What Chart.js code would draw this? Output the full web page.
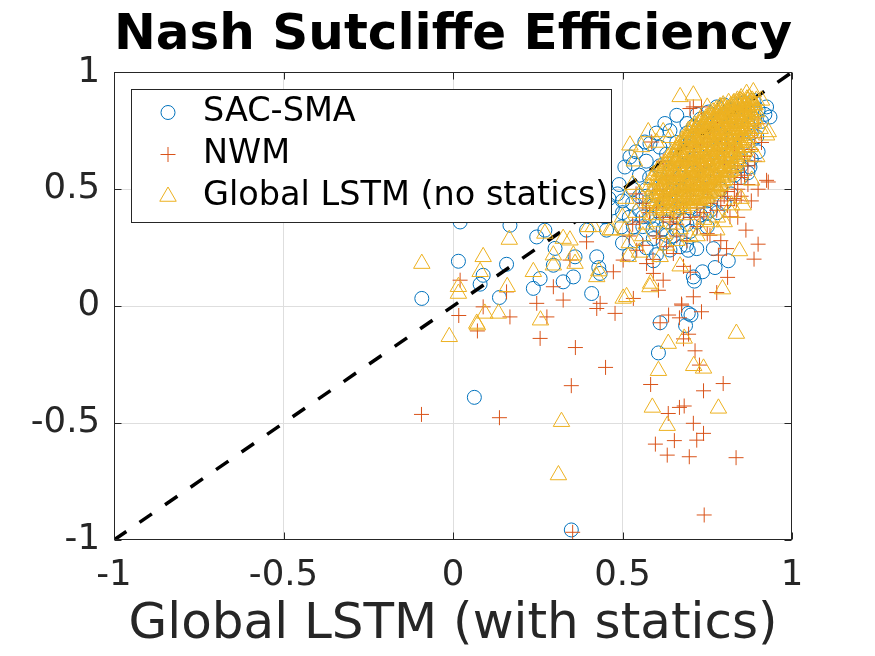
<!DOCTYPE html>
<html>
<head>
<meta charset="utf-8">
<title>Nash Sutcliffe Efficiency</title>
<script src="https://cdn.jsdelivr.net/npm/chart.js@4.4.1/dist/chart.umd.min.js"></script>
<style>
  html, body { margin: 0; padding: 0; background: #fff; }
  #wrap { width: 875px; height: 656px; }
</style>
</head>
<body>
<div id="wrap"><canvas id="nse" width="875" height="656"></canvas></div>
<script>
// ------------------------------------------------------------
// NSE scatter: benchmark models vs. global LSTM (with statics)
// ------------------------------------------------------------
const TITLE = "Nash Sutcliffe Efficiency";
const X_LABEL = "Global LSTM (with statics)";
const SERIES_LABELS = ["SAC-SMA", "NWM", "Global LSTM (no statics)"];

const tickValues = [-1, -0.5, 0, 0.5, 1];
const tickLabels = ["-1", "-0.5", "0", "0.5", "1"];
const diagonal = [[-1, -1], [1, 1]];

// [x = LSTM with statics, y = benchmark NSE]
const sacSma = [
  [-0.092, 0.033], [0.016, 0.192], [0.021, 0.36], [0.089, 0.132], [0.08, 0.094], [0.137, 0.037],
  [0.158, 0.179], [0.168, 0.346], [0.063, -0.39], [0.349, -0.957], [0.247, 0.296], [0.271, 0.325],
  [0.301, 0.247], [0.257, 0.118], [0.237, 0.076], [0.296, 0.175], [0.325, 0.104], [0.36, 0.211],
  [0.355, 0.125], [0.394, 0.325], [0.424, 0.211], [0.409, 0.054], [0.434, 0.14], [0.43, 0.165],
  [0.453, 0.325], [0.497, 0.339], [0.448, 0.382], [0.532, 0.339], [0.611, -0.071], [0.606, -0.2],
  [0.686, -0.083], [0.702, -0.038], [0.694, -0.031], [0.591, 0.194], [0.694, 0.239], [0.719, 0.246],
  [0.768, 0.246], [0.812, 0.194], [0.773, 0.165], [0.736, 0.147], [0.712, 0.107], [0.591, 0.289],
  [0.63, 0.303], [0.66, 0.325], [0.68, 0.368], [0.748, 0.396], [0.67, 0.254], [0.709, 0.125],
  [0.561, 0.382], [0.689, 0.261], [0.66, 0.382],
  [0.5, 0.27], [0.52, 0.22], [0.54, 0.28], [0.57, 0.25], [0.6, 0.22], [0.62, 0.27], [0.64, 0.24],
  [0.53, 0.44], [0.55, 0.47], [0.59, 0.33], [0.61, 0.4], [0.63, 0.36], [0.67, 0.42], [0.69, 0.35],
  [0.73, 0.39], [0.76, 0.41], [0.5, 0.4], [0.46, 0.46], [0.485, 0.48],
  [0.66, 0.816], [0.625, 0.781], [0.581, 0.695], [0.566, 0.702], [0.522, 0.638], [0.507, 0.595],
  [0.54, 0.66], [0.532, 0.61], [0.55, 0.56], [0.57, 0.62], [0.6, 0.74], [0.61, 0.68], [0.64, 0.75],
  [0.69, 0.781], [0.753, 0.83], [0.778, 0.852], [0.8, 0.86], [0.72, 0.82],
  [0.925, 0.852], [0.886, 0.88], [0.935, 0.809], [0.896, 0.724], [0.876, 0.595], [0.87, 0.57],
  [0.91, 0.79], [0.9, 0.66], [0.88, 0.63], [0.92, 0.82], [0.85, 0.55],
  [0.47, 0.42], [0.5, 0.45], [0.52, 0.38], [0.55, 0.41], [0.56, 0.34], [0.58, 0.38], [0.6, 0.35],
  [0.62, 0.33], [0.65, 0.3], [0.7, 0.32], [0.72, 0.36], [0.75, 0.34], [0.78, 0.4], [0.8, 0.44],
  [0.82, 0.48], [0.57, 0.47], [0.53, 0.5], [0.49, 0.52],
  [0.62, 0.52], [0.64, 0.58], [0.66, 0.62], [0.67, 0.55], [0.68, 0.66], [0.69, 0.6], [0.7, 0.7],
  [0.71, 0.63], [0.72, 0.72], [0.73, 0.66], [0.74, 0.75], [0.75, 0.69], [0.76, 0.78], [0.77, 0.72],
  [0.78, 0.8], [0.79, 0.74], [0.8, 0.82], [0.81, 0.77], [0.82, 0.84], [0.83, 0.79], [0.84, 0.86],
  [0.85, 0.81], [0.86, 0.87], [0.87, 0.83], [0.88, 0.86], [0.6, 0.47], [0.63, 0.45], [0.65, 0.49],
  [0.68, 0.47], [0.7, 0.52], [0.72, 0.5], [0.74, 0.56], [0.76, 0.53], [0.78, 0.6], [0.8, 0.58],
  [0.82, 0.65], [0.84, 0.63], [0.86, 0.7], [0.88, 0.74], [0.87, 0.78], [0.66, 0.7], [0.69, 0.74],
  [0.71, 0.77], [0.73, 0.8], [0.63, 0.65], [0.61, 0.6], [0.58, 0.55], [0.57, 0.5], [0.59, 0.43],
  [0.65, 0.4], [0.7, 0.42], [0.75, 0.45], [0.79, 0.5], [0.83, 0.56], [0.85, 0.6], [0.89, 0.8],
  [0.9, 0.84], [0.75, 0.62], [0.77, 0.66], [0.79, 0.69], [0.81, 0.71], [0.71, 0.57], [0.73, 0.6],
  [0.67, 0.5], [0.64, 0.5]
];

const nwm = [
  [-0.093, -0.463], [0.137, -0.477], [0.021, 0.111], [0.017, -0.04], [0.089, -0.003], [0.072, -0.106],
  [0.168, -0.046], [0.158, 0.061], [0.247, 0.012], [0.257, -0.138], [0.277, -0.046], [0.361, -0.177],
  [0.325, 0.026], [0.296, 0.083], [0.394, 0.275], [0.434, 0.012], [0.424, -0.01], [0.473, 0.147],
  [0.478, -0.031], [0.532, 0.033], [0.345, 0.197], [0.45, -0.262], [0.349, -0.34], [0.353, -0.967],
  [0.611, -0.071], [0.636, -0.038], [0.733, -0.024], [0.674, 0.009], [0.68, -0.14], [0.714, -0.191],
  [0.727, -0.252], [0.583, -0.335], [0.797, -0.331], [0.739, -0.362], [0.635, -0.459], [0.668, -0.433],
  [0.682, -0.427], [0.709, -0.501], [0.739, -0.544], [0.719, -0.573], [0.597, -0.59], [0.653, -0.575],
  [0.632, -0.637], [0.697, -0.644], [0.835, -0.648], [0.741, -0.893],
  [0.93, 0.531], [0.864, 0.325], [0.9, 0.265], [0.888, 0.201], [0.807, 0.246], [0.81, 0.123],
  [0.778, 0.058], [0.68, 0.17], [0.62, 0.111], [0.606, 0.068], [0.709, 0.04], [0.675, 0.004],
  [0.668, -0.05], [0.695, -0.12], [0.502, 0.197], [0.542, 0.239], [0.571, 0.182], [0.591, 0.14],
  [0.65, 0.225], [0.63, 0.254], [0.758, 0.303], [0.729, 0.382], [0.778, 0.41], [0.817, 0.382],
  [0.836, 0.453], [0.783, 0.218], [0.7, 0.145], [0.55, 0.36], [0.6, 0.3], [0.64, 0.36], [0.52, 0.3],
  [0.56, 0.26], [0.59, 0.2], [0.61, 0.29], [0.66, 0.3], [0.69, 0.28], [0.75, 0.31], [0.79, 0.28],
  [0.53, 0.35], [0.57, 0.42], [0.65, 0.38], [0.72, 0.34], [0.81, 0.43], [0.84, 0.38], [0.88, 0.45],
  [0.9, 0.5],
  [0.709, 0.852], [0.733, 0.852], [0.699, 0.845], [0.925, 0.538], [0.586, 0.702], [0.62, 0.62],
  [0.62, 0.45], [0.64, 0.48], [0.66, 0.44], [0.67, 0.52], [0.69, 0.47], [0.7, 0.55], [0.71, 0.5],
  [0.72, 0.58], [0.73, 0.53], [0.74, 0.6], [0.75, 0.5], [0.76, 0.63], [0.77, 0.56], [0.78, 0.66],
  [0.79, 0.52], [0.8, 0.62], [0.81, 0.49], [0.82, 0.57], [0.83, 0.52], [0.84, 0.6], [0.85, 0.55],
  [0.86, 0.64], [0.87, 0.6], [0.88, 0.67], [0.89, 0.72], [0.87, 0.76], [0.85, 0.72], [0.83, 0.68],
  [0.81, 0.7], [0.79, 0.72], [0.77, 0.74], [0.75, 0.7], [0.73, 0.68], [0.71, 0.66], [0.69, 0.62],
  [0.67, 0.6], [0.65, 0.56], [0.63, 0.54], [0.61, 0.5], [0.6, 0.42], [0.68, 0.4], [0.72, 0.42],
  [0.76, 0.44], [0.8, 0.47], [0.84, 0.5], [0.86, 0.56], [0.9, 0.78], [0.88, 0.82], [0.86, 0.84],
  [0.84, 0.8], [0.82, 0.78], [0.8, 0.76], [0.78, 0.8], [0.76, 0.76], [0.74, 0.72], [0.83, 0.46],
  [0.79, 0.45], [0.85, 0.47], [0.87, 0.52], [0.74, 0.4], [0.7, 0.38], [0.66, 0.35], [0.62, 0.38],
  [0.58, 0.4], [0.56, 0.44], [0.54, 0.48], [0.89, 0.62], [0.91, 0.7]
];

const lstmNoStatics = [
  [-0.092, 0.182], [-0.011, -0.131], [0.016, 0.054], [0.016, 0.083], [0.089, 0.211], [0.08, 0.147],
  [0.072, -0.081], [0.094, -0.031], [0.134, -0.031], [0.16, 0.083], [0.166, 0.285], [0.258, -0.06],
  [0.237, 0.147], [0.271, 0.311], [0.296, 0.218], [0.325, 0.289], [0.345, 0.282], [0.355, 0.218],
  [0.36, 0.182], [0.296, 0.175], [0.424, 0.125], [0.43, 0.15], [0.399, 0.339], [0.414, 0.339],
  [0.468, 0.325], [0.502, 0.033], [0.07, -0.074], [0.32, -0.494], [0.311, -0.722], [0.635, -0.16],
  [0.682, -0.138], [0.606, -0.276], [0.71, -0.255], [0.739, -0.266], [0.836, -0.117], [0.588, -0.433],
  [0.783, -0.437], [0.632, -0.511],
  [0.845, 0.236], [0.795, 0.073], [0.67, 0.171], [0.611, 0.211], [0.583, 0.097], [0.512, 0.04],
  [0.517, 0.211], [0.822, 0.432], [0.856, 0.432], [0.729, 0.325], [0.507, 0.325], [0.463, 0.325],
  [0.699, 0.296], [0.778, 0.325], [0.581, 0.082], [0.63, 0.26], [0.56, 0.3], [0.6, 0.36],
  [0.67, 0.33], [0.72, 0.3], [0.76, 0.36], [0.8, 0.36], [0.54, 0.4], [0.5, 0.38], [0.58, 0.45],
  [0.52, 0.27], [0.55, 0.23], [0.57, 0.35], [0.59, 0.39], [0.62, 0.31], [0.65, 0.35], [0.55, 0.48],
  [0.53, 0.52], [0.51, 0.46], [0.69, 0.39], [0.74, 0.37], [0.78, 0.38], [0.82, 0.4], [0.85, 0.46],
  [0.63, 0.39], [0.66, 0.28],
  [0.67, 0.895], [0.709, 0.902], [0.576, 0.745], [0.62, 0.745], [0.522, 0.688], [0.556, 0.681],
  [0.788, 0.852], [0.827, 0.866], [0.866, 0.909], [0.886, 0.916], [0.91, 0.88], [0.93, 0.745],
  [0.896, 0.638], [0.881, 0.538], [0.925, 0.731], [0.906, 0.759], [0.876, 0.681], [0.535, 0.62],
  [0.6, 0.7], [0.64, 0.72], [0.75, 0.85], [0.85, 0.89],
  [0.581, 0.44], [0.584, 0.48], [0.579, 0.51], [0.586, 0.54],
  [0.592, 0.42], [0.594, 0.465], [0.589, 0.5], [0.596, 0.53], [0.591, 0.56],
  [0.602, 0.41], [0.598, 0.45], [0.605, 0.48], [0.601, 0.515], [0.607, 0.545], [0.603, 0.58],
  [0.612, 0.43], [0.609, 0.47], [0.615, 0.495], [0.611, 0.535], [0.617, 0.56], [0.613, 0.6],
  [0.621, 0.42], [0.626, 0.455], [0.619, 0.485], [0.624, 0.52], [0.628, 0.55], [0.622, 0.585], [0.627, 0.61],
  [0.632, 0.41], [0.629, 0.44], [0.635, 0.475], [0.631, 0.5], [0.637, 0.54], [0.633, 0.57], [0.638, 0.6], [0.634, 0.635],
  [0.642, 0.43], [0.646, 0.46], [0.641, 0.495], [0.645, 0.525], [0.648, 0.56], [0.643, 0.59], [0.647, 0.62], [0.644, 0.655],
  [0.652, 0.42], [0.656, 0.45], [0.651, 0.48], [0.655, 0.51], [0.658, 0.545], [0.653, 0.575], [0.657, 0.61], [0.654, 0.64], [0.659, 0.67],
  [0.662, 0.41], [0.666, 0.44], [0.661, 0.47], [0.664, 0.505], [0.668, 0.53], [0.663, 0.565], [0.667, 0.6], [0.665, 0.63], [0.669, 0.66], [0.664, 0.69],
  [0.672, 0.43], [0.676, 0.46], [0.671, 0.49], [0.675, 0.52], [0.678, 0.555], [0.673, 0.58], [0.677, 0.62], [0.674, 0.65], [0.679, 0.68], [0.675, 0.71],
  [0.682, 0.42], [0.686, 0.45], [0.681, 0.48], [0.685, 0.51], [0.688, 0.54], [0.683, 0.57], [0.687, 0.6], [0.684, 0.64], [0.689, 0.67], [0.685, 0.7], [0.688, 0.725],
  [0.692, 0.44], [0.696, 0.47], [0.691, 0.5], [0.695, 0.53], [0.698, 0.56], [0.693, 0.59], [0.697, 0.625], [0.694, 0.66], [0.699, 0.69], [0.695, 0.72], [0.698, 0.74],
  [0.702, 0.43], [0.706, 0.46], [0.701, 0.49], [0.705, 0.52], [0.708, 0.55], [0.703, 0.58], [0.707, 0.61], [0.704, 0.64], [0.709, 0.68], [0.705, 0.71], [0.708, 0.74], [0.703, 0.76],
  [0.712, 0.45], [0.716, 0.48], [0.711, 0.51], [0.715, 0.54], [0.718, 0.57], [0.713, 0.6], [0.717, 0.63], [0.714, 0.665], [0.719, 0.7], [0.715, 0.73], [0.718, 0.75], [0.713, 0.775],
  [0.722, 0.44], [0.726, 0.47], [0.721, 0.5], [0.725, 0.53], [0.728, 0.56], [0.723, 0.59], [0.727, 0.62], [0.724, 0.65], [0.729, 0.68], [0.725, 0.72], [0.728, 0.745], [0.723, 0.77], [0.727, 0.79],
  [0.732, 0.46], [0.736, 0.49], [0.731, 0.52], [0.735, 0.55], [0.738, 0.58], [0.733, 0.61], [0.737, 0.64], [0.734, 0.67], [0.739, 0.7], [0.735, 0.735], [0.738, 0.76], [0.733, 0.79],
  [0.742, 0.45], [0.746, 0.48], [0.741, 0.51], [0.745, 0.54], [0.748, 0.57], [0.743, 0.6], [0.747, 0.63], [0.744, 0.66], [0.749, 0.69], [0.745, 0.72], [0.748, 0.75], [0.743, 0.78], [0.747, 0.805],
  [0.752, 0.47], [0.756, 0.5], [0.751, 0.53], [0.755, 0.56], [0.758, 0.59], [0.753, 0.62], [0.757, 0.65], [0.754, 0.68], [0.759, 0.71], [0.755, 0.74], [0.758, 0.77], [0.753, 0.8], [0.757, 0.82],
  [0.762, 0.49], [0.766, 0.52], [0.761, 0.55], [0.765, 0.58], [0.768, 0.61], [0.763, 0.64], [0.767, 0.67], [0.764, 0.7], [0.769, 0.73], [0.765, 0.76], [0.768, 0.79], [0.763, 0.81], [0.767, 0.83],
  [0.772, 0.48], [0.776, 0.51], [0.771, 0.54], [0.775, 0.57], [0.778, 0.6], [0.773, 0.63], [0.777, 0.66], [0.774, 0.69], [0.779, 0.72], [0.775, 0.75], [0.778, 0.78], [0.773, 0.8], [0.777, 0.84],
  [0.782, 0.5], [0.786, 0.53], [0.781, 0.56], [0.785, 0.59], [0.788, 0.62], [0.783, 0.65], [0.787, 0.68], [0.784, 0.71], [0.789, 0.74], [0.785, 0.77], [0.788, 0.8], [0.783, 0.82], [0.787, 0.85],
  [0.792, 0.52], [0.796, 0.55], [0.791, 0.58], [0.795, 0.61], [0.798, 0.64], [0.793, 0.67], [0.797, 0.7], [0.794, 0.73], [0.799, 0.76], [0.795, 0.79], [0.798, 0.81], [0.793, 0.84], [0.797, 0.86],
  [0.802, 0.54], [0.806, 0.57], [0.801, 0.6], [0.805, 0.63], [0.808, 0.66], [0.803, 0.69], [0.807, 0.72], [0.804, 0.75], [0.809, 0.78], [0.805, 0.8], [0.808, 0.83], [0.803, 0.85],
  [0.812, 0.56], [0.816, 0.59], [0.811, 0.62], [0.815, 0.65], [0.818, 0.68], [0.813, 0.71], [0.817, 0.74], [0.814, 0.77], [0.819, 0.79], [0.815, 0.82], [0.818, 0.84], [0.813, 0.87],
  [0.822, 0.58], [0.826, 0.61], [0.821, 0.64], [0.825, 0.67], [0.828, 0.7], [0.823, 0.73], [0.827, 0.76], [0.824, 0.78], [0.829, 0.81], [0.825, 0.83], [0.828, 0.86],
  [0.832, 0.6], [0.836, 0.63], [0.831, 0.66], [0.835, 0.69], [0.838, 0.72], [0.833, 0.75], [0.837, 0.77], [0.834, 0.8], [0.839, 0.82], [0.835, 0.85], [0.838, 0.87],
  [0.842, 0.62], [0.846, 0.65], [0.841, 0.68], [0.845, 0.71], [0.848, 0.74], [0.843, 0.76], [0.847, 0.79], [0.844, 0.81], [0.849, 0.84], [0.845, 0.86], [0.848, 0.88],
  [0.852, 0.65], [0.856, 0.68], [0.851, 0.71], [0.855, 0.73], [0.858, 0.76], [0.853, 0.78], [0.857, 0.81], [0.854, 0.83], [0.859, 0.85], [0.855, 0.87],
  [0.862, 0.68], [0.866, 0.71], [0.861, 0.74], [0.865, 0.77], [0.868, 0.79], [0.863, 0.82], [0.867, 0.84], [0.864, 0.86], [0.869, 0.88],
  [0.872, 0.72], [0.876, 0.75], [0.871, 0.78], [0.875, 0.8], [0.878, 0.83], [0.873, 0.85], [0.877, 0.87], [0.874, 0.89],
  [0.882, 0.76], [0.886, 0.79], [0.881, 0.82], [0.885, 0.84], [0.888, 0.86], [0.883, 0.88],
  [0.892, 0.8], [0.896, 0.83], [0.891, 0.86], [0.895, 0.88],
  [0.606, 0.43], [0.608, 0.5], [0.604, 0.56], [0.617, 0.45], [0.618, 0.51], [0.614, 0.575],
  [0.628, 0.43], [0.625, 0.5], [0.629, 0.565], [0.626, 0.6], [0.638, 0.42], [0.636, 0.49],
  [0.639, 0.555], [0.636, 0.62], [0.648, 0.44], [0.649, 0.505], [0.646, 0.575], [0.649, 0.64],
  [0.657, 0.43], [0.659, 0.495], [0.656, 0.56], [0.658, 0.625], [0.655, 0.66],
  [0.668, 0.45], [0.669, 0.515], [0.666, 0.585], [0.668, 0.645], [0.666, 0.675],
  [0.678, 0.44], [0.679, 0.505], [0.676, 0.57], [0.679, 0.635], [0.677, 0.695],
  [0.687, 0.465], [0.689, 0.525], [0.686, 0.585], [0.689, 0.655], [0.687, 0.71],
  [0.697, 0.455], [0.699, 0.515], [0.696, 0.575], [0.699, 0.64], [0.697, 0.705], [0.694, 0.75],
  [0.707, 0.475], [0.709, 0.535], [0.706, 0.595], [0.709, 0.655], [0.707, 0.725], [0.709, 0.765],
  [0.717, 0.465], [0.719, 0.525], [0.716, 0.585], [0.719, 0.645], [0.717, 0.715], [0.719, 0.76],
  [0.727, 0.455], [0.729, 0.515], [0.726, 0.575], [0.729, 0.635], [0.727, 0.7], [0.729, 0.76], [0.726, 0.78],
  [0.737, 0.475], [0.739, 0.535], [0.736, 0.595], [0.739, 0.655], [0.737, 0.715], [0.739, 0.775],
  [0.747, 0.465], [0.749, 0.525], [0.746, 0.585], [0.749, 0.645], [0.747, 0.705], [0.749, 0.765], [0.746, 0.795],
  [0.757, 0.485], [0.759, 0.545], [0.756, 0.605], [0.759, 0.665], [0.757, 0.725], [0.759, 0.785], [0.756, 0.81],
  [0.767, 0.505], [0.769, 0.565], [0.766, 0.625], [0.769, 0.685], [0.767, 0.745], [0.769, 0.8],
  [0.777, 0.495], [0.779, 0.555], [0.776, 0.615], [0.779, 0.675], [0.777, 0.735], [0.779, 0.79], [0.776, 0.82],
  [0.787, 0.515], [0.789, 0.575], [0.786, 0.635], [0.789, 0.695], [0.787, 0.755], [0.789, 0.81], [0.786, 0.835],
  [0.797, 0.535], [0.799, 0.595], [0.796, 0.655], [0.799, 0.715], [0.797, 0.775], [0.799, 0.825], [0.796, 0.85],
  [0.807, 0.555], [0.809, 0.615], [0.806, 0.675], [0.809, 0.735], [0.807, 0.79], [0.809, 0.84],
  [0.817, 0.575], [0.819, 0.635], [0.816, 0.695], [0.819, 0.755], [0.817, 0.805], [0.819, 0.855],
  [0.827, 0.595], [0.829, 0.655], [0.826, 0.715], [0.829, 0.77], [0.827, 0.82], [0.829, 0.87],
  [0.837, 0.615], [0.839, 0.675], [0.836, 0.735], [0.839, 0.785], [0.837, 0.835], [0.839, 0.88],
  [0.847, 0.64], [0.849, 0.7], [0.846, 0.755], [0.849, 0.8], [0.847, 0.85], [0.849, 0.875],
  [0.857, 0.665], [0.859, 0.72], [0.856, 0.77], [0.859, 0.82], [0.857, 0.86],
  [0.867, 0.7], [0.869, 0.76], [0.866, 0.81], [0.869, 0.855], [0.867, 0.885],
  [0.877, 0.74], [0.879, 0.79], [0.876, 0.84], [0.879, 0.88],
  [0.887, 0.78], [0.889, 0.83], [0.886, 0.87]
];

const FONT = '"DejaVu Sans", "Liberation Sans", sans-serif';
const AXIS_COLOR = "#262626";
const GRID_COLOR = "#dedede";
const COLORS = ["#0072BD", "#D95319", "#EDB120"];
const STYLES = ["circle", "cross", "triangle"];
const RADII = [7, 7.5, 9.5];
const TICK_LEN = 7;

const toXY = (pts) => pts.map(([x, y]) => ({ x, y }));

function markerSet(i, pts, order) {
  return {
    label: SERIES_LABELS[i],
    data: toXY(pts),
    pointStyle: STYLES[i],
    pointRadius: RADII[i],
    pointHoverRadius: RADII[i],
    pointBorderColor: COLORS[i],
    pointBackgroundColor: "rgba(0,0,0,0)",
    pointBorderWidth: 1,
    showLine: false,
    order,
  };
}

// box round the axes, with MATLAB style inward ticks
const axesFrame = {
  id: "axesFrame",
  afterDatasetsDraw(chart) {
    const { ctx, chartArea: a, scales } = chart;
    const l = Math.round(a.left) + 0.5, r = Math.round(a.right) - 0.5;
    const t = Math.round(a.top) + 0.5, b = Math.round(a.bottom) - 0.5;
    ctx.save();
    ctx.strokeStyle = AXIS_COLOR;
    ctx.lineWidth = 1;
    ctx.strokeRect(l, t, r - l, b - t);
    ctx.beginPath();
    tickValues.forEach((v) => {
      const px = Math.round(scales.x.getPixelForValue(v)) + 0.5;
      const py = Math.round(scales.y.getPixelForValue(v)) + 0.5;
      ctx.moveTo(px, b); ctx.lineTo(px, b - TICK_LEN);
      ctx.moveTo(px, t); ctx.lineTo(px, t + TICK_LEN);
      ctx.moveTo(l, py); ctx.lineTo(l + TICK_LEN, py);
      ctx.moveTo(r, py); ctx.lineTo(r - TICK_LEN, py);
    });
    ctx.stroke();
    ctx.restore();
  },
};

// legend box inside the axes, drawn over the data
const insetLegend = {
  id: "insetLegend",
  afterDraw(chart) {
    const ctx = chart.ctx;
    ctx.save();
    ctx.fillStyle = "#fff";
    ctx.fillRect(131, 89, 480, 133);
    ctx.strokeStyle = AXIS_COLOR;
    ctx.lineWidth = 1;
    ctx.strokeRect(131.5, 89.5, 480, 133);
    ctx.font = "33.5px " + FONT;
    ctx.textBaseline = "middle";
    ctx.textAlign = "left";
    SERIES_LABELS.forEach((label, i) => {
      const y = 112.5 + i * 42;
      ctx.strokeStyle = COLORS[i];
      ctx.fillStyle = "rgba(0,0,0,0)";
      Chart.helpers.drawPoint(ctx, { pointStyle: STYLES[i], radius: RADII[i], borderWidth: 1, rotation: 0 }, 168, y);
      ctx.fillStyle = "#000";
      ctx.fillText(label, 203, y);
    });
    ctx.restore();
  },
};

const axisTicks = {
  min: -1,
  max: 1,
  afterBuildTicks: (scale) => { scale.ticks = tickValues.map((value) => ({ value })); },
  ticks: {
    color: AXIS_COLOR,
    font: { family: FONT, size: 35.5 },
    padding: 14,
    autoSkip: false,
    maxRotation: 0,
    callback: (v) => tickLabels[tickValues.indexOf(v)],
  },
  grid: {
    color: (c) => (c.tick && Math.abs(c.tick.value) === 1 ? "rgba(0,0,0,0)" : GRID_COLOR),
    lineWidth: 1,
    drawTicks: false,
  },
  border: { display: false },
};

new Chart(document.getElementById("nse"), {
  type: "scatter",
  data: {
    datasets: [
      markerSet(0, sacSma, 3),
      markerSet(1, nwm, 2),
      {
        label: "1:1",
        data: toXY(diagonal),
        showLine: true,
        borderColor: "#000",
        borderWidth: 3.5,
        borderDash: [15, 16],
        pointRadius: 0,
        order: 1,
      },
      markerSet(2, lstmNoStatics, 0),
    ],
  },
  options: {
    responsive: false,
    devicePixelRatio: 1,
    animation: false,
    events: [],
    layout: { padding: { top: 0, right: 83, bottom: 0, left: 0 } },
    plugins: {
      legend: { display: false },
      tooltip: { enabled: false },
      title: {
        display: true,
        text: TITLE,
        color: "#000",
        fullSize: false,
        font: { family: FONT, size: 50.5, weight: "bold", lineHeight: 1.2 },
        padding: { top: 5.7, bottom: 6 },
      },
    },
    scales: {
      x: {
        ...axisTicks,
        type: "linear",
        position: "bottom",
        title: {
          display: true,
          text: X_LABEL,
          color: AXIS_COLOR,
          font: { family: FONT, size: 50, lineHeight: 1.2 },
          padding: { top: 0, bottom: 0.5 },
        },
        afterFit: (scale) => { scale.height = 116; },
      },
      y: {
        ...axisTicks,
        type: "linear",
        position: "left",
        afterFit: (scale) => { scale.width = 114; },
      },
    },
  },
  plugins: [axesFrame, insetLegend],
});
</script>
</body>
</html>
